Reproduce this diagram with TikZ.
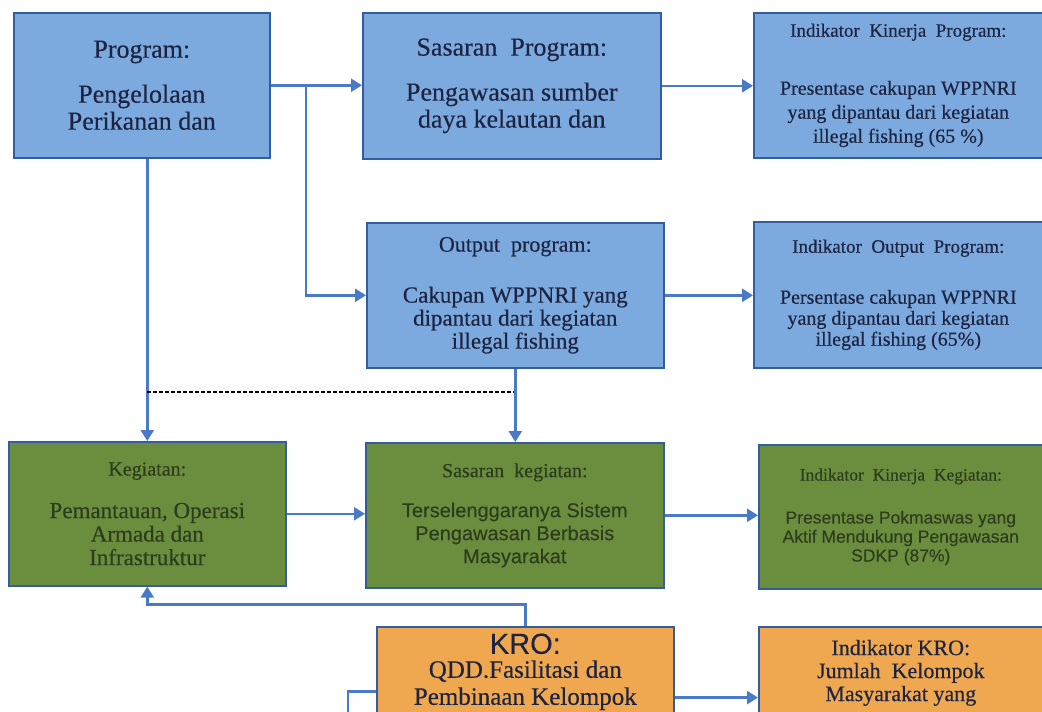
\documentclass[tikz,border=0pt]{standalone}
\usepackage{fontspec}
\setmainfont{Liberation Serif}[FakeBold=0.4]
\setsansfont{Liberation Sans}[FakeBold=0.2]
\usepackage{tikz}
\usetikzlibrary{arrows.meta,calc}
\definecolor{box-blue}{RGB}{124,170,222}
\definecolor{box-green}{RGB}{106,142,62}
\definecolor{box-orange}{RGB}{240,168,80}
\definecolor{box-line}{RGB}{52,92,160}
\definecolor{link-blue}{RGB}{72,122,200}
\definecolor{ink-navy}{RGB}{28,36,66}
\definecolor{ink-green}{RGB}{46,60,30}
\newcommand{\fsz}[2]{\fontsize{#1}{#2}\selectfont}
\tikzstyle{blockbox}=[draw=box-line, line width=1.6pt, anchor=north west, align=center, inner sep=0pt]
\tikzstyle{bluebox}=[blockbox, fill=box-blue, text=ink-navy]
\tikzstyle{greenbox}=[blockbox, fill=box-green, text=ink-green]
\tikzstyle{orangebox}=[blockbox, fill=box-orange, text=ink-navy]
\tikzstyle{link}=[draw=link-blue, line width=2.4pt, -{Triangle[length=11pt,width=13pt]}]
\tikzstyle{plainlink}=[draw=link-blue, line width=2.4pt]
\tikzstyle{guide}=[draw=black, line width=1.2pt, dash pattern=on 4pt off 2pt]

\begin{document}
\begin{tikzpicture}[x=1pt,y=-1pt]
	\useasboundingbox (0,0) rectangle (1042,712);
	\fill[white] (0,0) rectangle (1042,712);
	\clip (0,0) rectangle (1042,712);
	% program level
	\node[bluebox, minimum width=256, minimum height=145, font=\fsz{26}{27}] (prog) at (13,12) {Program:\\[18pt]Pengelolaan\\Perikanan dan};
	\node[bluebox, minimum width=298, minimum height=146, font=\fsz{26}{27}] (sprog) at (362,12) {Sasaran\ \ Program:\\[18pt]Pengawasan sumber\\daya kelautan dan};
	\node[bluebox, minimum width=289, minimum height=145, font=\fsz{20}{24}] (ikp) at (753,12) {{\fsz{19}{24}Indikator\ \ Kinerja\ \ Program:}\\[34pt]Presentase cakupan WPPNRI\\yang dipantau dari kegiatan\\illegal fishing (65 \%)};
	\node[bluebox, minimum width=297, minimum height=145, font=\fsz{23}{23}] (outp) at (366,222) {{\fsz{22}{23}Output\ \ program:}\\[28pt]Cakupan WPPNRI yang\\dipantau dari kegiatan\\illegal fishing};
	\node[bluebox, minimum width=289, minimum height=146, font=\fsz{20}{21}] (iop) at (753,221) {{\fsz{19}{21}Indikator\ \ Output\ \ Program:}\\[30pt]Persentase cakupan WPPNRI\\yang dipantau dari kegiatan\\illegal fishing (65\%)};
	% kegiatan level
	\node[greenbox, minimum width=277, minimum height=144, font=\fsz{23}{23.5}] (keg) at (8,441) {{\fsz{20}{23}Kegiatan:}\\[19pt]Pemantauan, Operasi\\Armada dan\\Infrastruktur};
	\node[greenbox, minimum width=298, minimum height=145, font=\sffamily\fsz{20}{23}] (skeg) at (365,442) {{\rmfamily\fsz{20}{23}Sasaran\ \ kegiatan:}\\[17pt]Terselenggaranya Sistem\\Pengawasan Berbasis\\Masyarakat};
	\node[greenbox, minimum width=284, minimum height=144, font=\sffamily\fsz{17.5}{19}] (ikk) at (758,444) {{\rmfamily\fsz{17.5}{19}Indikator\ \ Kinerja\ \ Kegiatan:}\\[24pt]Presentase Pokmaswas yang\\Aktif Mendukung Pengawasan\\SDKP (87\%)};
	% KRO level
	\node[orangebox, minimum width=297, minimum height=90, font=\fsz{25}{27}] (kro) at (376,626) {{\sffamily\fsz{29}{27}KRO:}\\[-3pt]QDD.Fasilitasi dan\\Pembinaan Kelompok};
	\node[orangebox, minimum width=284, minimum height=92, font=\fsz{22}{23}] (ikro) at (758,626) {Indikator KRO:\\Jumlah\ \ Kelompok\\Masyarakat yang};
	% connectors
	\coordinate (fork) at (306,85);
	\coordinate (kroleft) at (348,730);
	\draw[link] (prog.east) -- (prog.east -| sprog.west);
	\draw[link] (sprog.east) -- (sprog.east -| ikp.west);
	\draw[link] (fork) |- (outp.west);
	\draw[link] (outp.east) -- (outp.east -| iop.west);
	\draw[link] (keg.north |- prog.south) -- (keg.north);
	\draw[guide] (keg.north |- 0,392) -- (outp.south |- 0,392);
	\draw[link] (outp.south) -- (outp.south |- skeg.north);
	\draw[link] (keg.east) -- (keg.east -| skeg.west);
	\draw[link] (skeg.east) -- (skeg.east -| ikk.west);
	\draw[link] (kro.north) |- ($(keg.south)+(0,18)$) -- (keg.south);
	\draw[plainlink] ($(kro.south west)+(0,-26)$) -| (kroleft);
	\draw[link] ($(kro.south east)+(0,-20)$) -- ($(ikro.south west)+(0,-22)$);
\end{tikzpicture}
\end{document}
